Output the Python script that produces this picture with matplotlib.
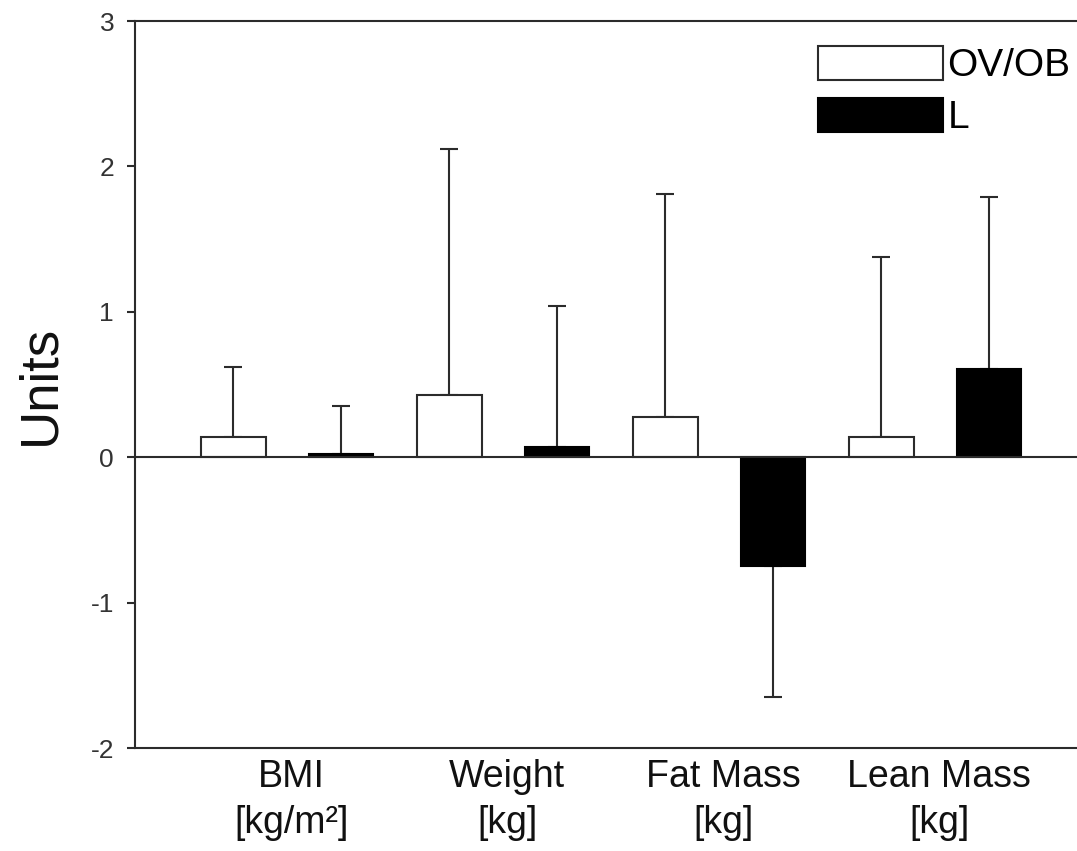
import numpy as np
import matplotlib
matplotlib.use("Agg")
import matplotlib.pyplot as plt

plt.rcParams['font.family'] = ['Liberation Sans', 'DejaVu Sans']
plt.rcParams['axes.unicode_minus'] = False

categories = ["BMI\n[kg/m²]", "Weight\n[kg]", "Fat Mass\n[kg]", "Lean Mass\n[kg]"]
ovob_mean = [0.14, 0.43, 0.28, 0.14]
ovob_err = [0.48, 1.69, 1.53, 1.24]
lean_mean = [0.02, 0.07, -0.75, 0.61]
lean_err = [0.33, 0.97, 0.90, 1.18]

x = np.arange(len(categories))
off = 0.249
w = 0.299
edge = '#2b2b2b'

fig = plt.figure(figsize=(10.77, 8.51), dpi=100)
ax = fig.add_axes([0.1253, 0.121, 0.8747, 0.8543])

ax.bar(x - off, ovob_mean, w, color='white', edgecolor=edge, linewidth=1.5, label='OV/OB', zorder=3)
ax.bar(x + off, lean_mean, w, color='black', edgecolor='black', linewidth=1.5, label='L', zorder=3)

# one-sided error bars, pointing away from zero
for xs, m, e in [(x - off, ovob_mean, ovob_err), (x + off, lean_mean, lean_err)]:
    m = np.array(m)
    e = np.array(e)
    up = np.where(m >= 0, e, 0)
    lo = np.where(m < 0, e, 0)
    ax.errorbar(xs, m, yerr=[lo, up], fmt='none', ecolor=edge, elinewidth=1.5,
                capsize=6.5, capthick=1.5, zorder=2)

ax.axhline(0, color=edge, linewidth=1.5, zorder=4)

ax.set_xlim(-0.704, 3.657)
ax.set_ylim(-2, 3)
ax.set_yticks([-2, -1, 0, 1, 2, 3])
ax.tick_params(axis='y', direction='out', length=6, width=1.5, color=edge,
               labelsize=19, labelcolor='#333333', pad=9)
ax.set_xticks(x + 0.02)
ax.set_xticklabels(categories, fontsize=27, color='#111111', linespacing=1.35)
ax.tick_params(axis='x', length=0, pad=8)

for s in ['left', 'top', 'bottom']:
    ax.spines[s].set_color(edge)
    ax.spines[s].set_linewidth(1.5)
ax.spines['right'].set_visible(False)

ax.set_ylabel('Units', fontsize=38, color='#111111', labelpad=18)

leg = ax.legend(loc='upper right', bbox_to_anchor=(1.0096, 0.987), frameon=False, fontsize=28,
                handlelength=3.2, handleheight=0.95, handletextpad=0.12,
                labelspacing=0.36, borderaxespad=0.0)

fig.savefig('out.png', dpi=100)
